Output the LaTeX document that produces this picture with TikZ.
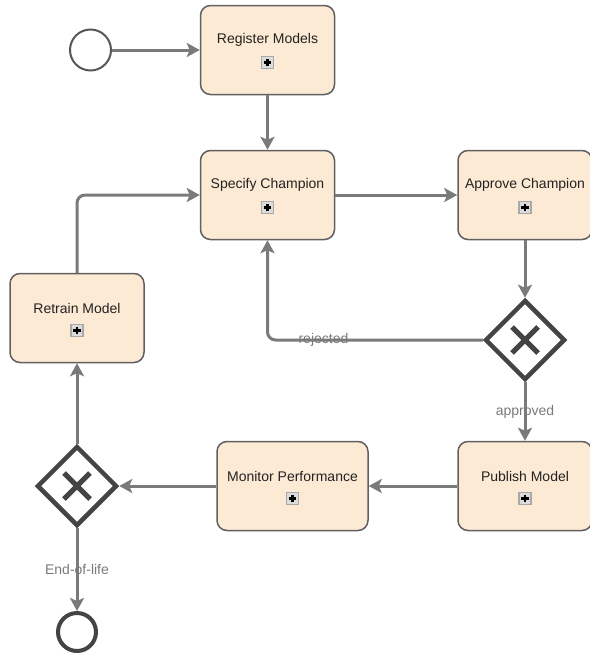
\documentclass[tikz,border=0pt]{standalone}
\usepackage{fontspec}
\setmainfont{Liberation Sans}
\usetikzlibrary{arrows.meta,shapes.geometric}
\definecolor{taskfill}{HTML}{FCEAD5}
\definecolor{taskline}{HTML}{606060}
\definecolor{flow}{HTML}{7A7A7A}
\definecolor{gate}{HTML}{444444}
\definecolor{tasktext}{HTML}{222222}
\definecolor{iconfill}{HTML}{DCDCDC}
\definecolor{iconline}{HTML}{A8A8A8}

\begin{document}
\begin{tikzpicture}[x=1pt,y=-1pt,
  task/.style={draw=taskline, line width=1.5pt, fill=taskfill, rounded corners=10pt,
    minimum width=134pt, minimum height=89pt, inner sep=0pt},
  taskname/.style={text=tasktext, font=\fontsize{14}{16}\selectfont, inner sep=0pt},
  subicon/.style={draw=iconline, fill=iconfill, line width=1.2pt, minimum size=12pt, inner sep=0pt,
    path picture={\draw[black, line width=2.3pt]
      ([xshift=-3.8pt]path picture bounding box.center) -- ([xshift=3.8pt]path picture bounding box.center)
      ([yshift=-3.8pt]path picture bounding box.center) -- ([yshift=3.8pt]path picture bounding box.center);}},
  gateway/.style={diamond, aspect=1, draw=gate, line width=4.5pt, fill=white,
    minimum width=80pt, minimum height=80pt, inner sep=0pt,
    path picture={\draw[gate, line width=5pt]
      ([shift={(-13pt,-13pt)}]path picture bounding box.center) -- ([shift={(13pt,13pt)}]path picture bounding box.center)
      ([shift={(-13pt,13pt)}]path picture bounding box.center) -- ([shift={(13pt,-13pt)}]path picture bounding box.center);}},
  startevent/.style={circle, draw=gate!90, line width=2pt, fill=white, minimum size=41pt, inner sep=0pt},
  endevent/.style={circle, draw=gate, line width=4pt, fill=white, minimum size=38pt, inner sep=0pt},
  flowline/.style={draw=flow, line width=3pt, -{Stealth[length=13pt,width=14pt,inset=3pt]}},
  flowlabel/.style={text=flow, font=\fontsize{14}{16}\selectfont, inner sep=0pt}
]
\useasboundingbox (0,0) rectangle (589,653);

% start event
\node[startevent] (start) at (90.5,50) {};

% tasks
\node[task] (reg) at (267.5,50) {};
\node[taskname] (regname) at (267.5,40) {Register Models};
\node[subicon] (regicon) at (267.5,62.5) {};

\node[task] (spec) at (267.5,195) {};
\node[taskname] (specname) at (267.5,185) {Specify Champion};
\node[subicon] (specicon) at (267.5,207.5) {};

\node[task] (appr) at (525,195) {};
\node[taskname] (apprname) at (525,185) {Approve Champion};
\node[subicon] (appricon) at (525,207.5) {};

\node[task] (pub) at (525,486) {};
\node[taskname] (pubname) at (525,476) {Publish Model};
\node[subicon] (pubicon) at (525,498.5) {};

\node[task, minimum width=151pt] (mon) at (292.5,486) {};
\node[taskname] (monname) at (292.5,476) {Monitor Performance};
\node[subicon] (monicon) at (292.5,498.5) {};

\node[task] (retrain) at (77,318) {};
\node[taskname] (retrainname) at (77,308) {Retrain Model};
\node[subicon] (retrainicon) at (77,330.5) {};

% gateways
\node[gateway] (g1) at (525,340) {};
\node[gateway] (g2) at (77,486) {};

% end event
\node[endevent] (end) at (77,632) {};

% sequence flows
\draw[flowline] (start) -- (reg);
\draw[flowline] (reg) -- (spec);
\draw[flowline] (spec) -- (appr);
\draw[flowline] (appr) -- (g1);
\draw[flowline, rounded corners=8pt] (g1.west) -| (spec.south)
  node[flowlabel, pos=0.37] {rejected};
\draw[flowline] (g1) -- (pub) node[flowlabel, midway] {approved};
\draw[flowline] (pub) -- (mon);
\draw[flowline] (mon) -- (g2);
\draw[flowline] (g2) -- (retrain);
\draw[flowline, rounded corners=8pt] (retrain.north) |- (spec.west);
\draw[flowline] (g2) -- (end) node[flowlabel, midway] {End-of-life};
\end{tikzpicture}
\end{document}
